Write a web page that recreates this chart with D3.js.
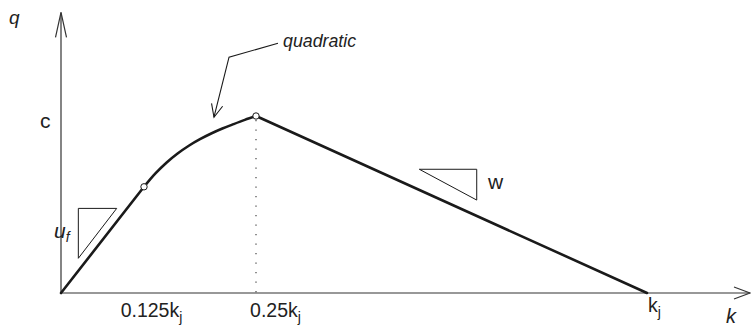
<!DOCTYPE html>
<html>
<head>
<meta charset="utf-8">
<script src="https://cdn.jsdelivr.net/npm/d3@7/dist/d3.min.js"></script>
<style>
  html, body { margin: 0; padding: 0; background: #fff; }
  svg { display: block; }
  text { font-family: "Liberation Sans", Arial, Helvetica, sans-serif; fill: #222; }
</style>
</head>
<body>
<svg id="chart" width="751" height="326"></svg>
<script>
// Flow q against density k: linear rise, quadratic cap, linear fall
const riseK = [0, 0.125];
const riseQ = [0, 0.6];
const quadK = [0.125, 0.1375, 0.15, 0.1625, 0.175, 0.1875, 0.2, 0.2125, 0.225, 0.2375, 0.25];
const quadQ = [0.600, 0.674, 0.736, 0.788, 0.832, 0.869, 0.901, 0.929, 0.954, 0.978, 1.000];
const fallK = [0.25, 1];
const fallQ = [1, 0];
const breakK = [0.125, 0.25];
const breakQ = [0.6, 1];
const tickK = [0.125, 0.25, 1];
const tickLabels = ["0.125k", "0.25k", "k"];

const W = 751, H = 326;
const svg = d3.select("#chart");
const ink = "#1a1a1a";

// schematic (piecewise) horizontal scale
const x = d3.scaleLinear().domain([0, 0.125, 0.25, 1]).range([61, 144, 256, 647]);
const y = d3.scaleLinear().domain([0, 1]).range([293, 116]);
const qTop = 1.585;

// axes
const ax = svg.append("g").attr("stroke", "#333").attr("fill", "none").attr("stroke-width", 1.2);
ax.append("line").attr("x1", x(0)).attr("y1", y(0)).attr("x2", W - 1).attr("y2", y(0));
ax.append("path").attr("d", `M${W - 17},${y(0) - 6}L${W - 1},${y(0)}L${W - 17},${y(0) + 6}`);
ax.append("line").attr("x1", x(0)).attr("y1", y(0)).attr("x2", x(0)).attr("y2", y(qTop));
ax.append("path").attr("d", `M${x(0) - 5.5},${y(qTop) + 25}L${x(0)},${y(qTop)}L${x(0) + 5.5},${y(qTop) + 25}`);

// tick labels with subscript j
const xAxis = d3.axisBottom(x).tickValues(tickK).tickSize(0).tickFormat("");
const gx = svg.append("g").attr("transform", `translate(0,${y(0)})`).call(xAxis);
gx.select(".domain").remove();
const labelDx = [7, 19, 7];
const labelDy = [24, 24, 19];
gx.selectAll(".tick").each(function(d, i) {
  const t = d3.select(this).append("text")
    .attr("x", labelDx[i]).attr("y", labelDy[i])
    .attr("text-anchor", "middle")
    .attr("font-size", 19.5)
    .style("fill", "#222");
  t.append("tspan").text(tickLabels[i]);
  t.append("tspan").attr("font-size", 14).attr("dy", 5).text("j");
});

// dotted drop line from the peak
svg.append("line")
  .attr("x1", x(0.25)).attr("x2", x(0.25))
  .attr("y1", y(1) + 4).attr("y2", y(0))
  .attr("stroke", "#333").attr("stroke-width", 1.1)
  .attr("stroke-dasharray", "1.3,8.2");

// the flow curve
const lineLin = d3.line().x(d => x(d[0])).y(d => y(d[1]));
const lineQuad = d3.line().x(d => x(d[0])).y(d => y(d[1])).curve(d3.curveMonotoneX);
const curveG = svg.append("g").attr("fill", "none").attr("stroke", ink)
  .attr("stroke-width", 2.6).attr("stroke-linejoin", "round").attr("stroke-linecap", "round");
curveG.append("path").attr("d", lineLin(riseK.map((k, i) => [k, riseQ[i]])));
curveG.append("path").attr("d", lineQuad(quadK.map((k, i) => [k, quadQ[i]])));
curveG.append("path").attr("d", lineLin(fallK.map((k, i) => [k, fallQ[i]])));

// breakpoints
svg.selectAll("circle.bp").data(breakK).join("circle")
  .attr("class", "bp")
  .attr("cx", d => x(d)).attr("cy", (d, i) => y(breakQ[i]))
  .attr("r", 3.2).attr("fill", "#fff").attr("stroke", ink).attr("stroke-width", 1);

// slope triangles
const triUf = [[0.0261, 0.478], [0.0839, 0.478], [0.0261, 0.196]];
const triW = [[0.5633, 0.699], [0.6734, 0.699], [0.6734, 0.525]];
[triUf, triW].forEach(tri => {
  svg.append("path")
    .attr("d", d3.line().x(d => x(d[0])).y(d => y(d[1]))(tri) + "Z")
    .attr("fill", "none").attr("stroke", ink).attr("stroke-width", 1);
});

// leader for the quadratic label
const leader = [[0.2922, 1.411], [0.2199, 1.332], [0.2031, 0.993]];
svg.append("path").attr("d", lineLin(leader))
  .attr("fill", "none").attr("stroke", ink).attr("stroke-width", 1.1);
{
  const p1 = leader[1], p2 = leader[2];
  const tx = x(p2[0]), ty = y(p2[1]);
  const ang = Math.atan2(ty - y(p1[1]), tx - x(p1[0]));
  const len = 14, spread = 0.42;
  const b1 = [tx - len * Math.cos(ang - spread), ty - len * Math.sin(ang - spread)];
  const b2 = [tx - len * Math.cos(ang + spread), ty - len * Math.sin(ang + spread)];
  svg.append("path")
    .attr("d", `M${b1[0]},${b1[1]}L${tx},${ty}L${b2[0]},${b2[1]}`)
    .attr("fill", "none").attr("stroke", ink).attr("stroke-width", 1.1);
}

// text labels
svg.append("text").attr("x", 9).attr("y", 24).attr("font-size", 19)
  .attr("font-style", "italic").text("q");
svg.append("text").attr("x", x(0) - 21).attr("y", y(1) + 12).attr("font-size", 21).text("c");
const uf = svg.append("text").attr("x", 54).attr("y", 238).attr("font-size", 21).attr("font-style", "italic");
uf.append("tspan").text("u");
uf.append("tspan").attr("font-size", 14).attr("dy", 4).text("f");
svg.append("text").attr("x", 488).attr("y", 189).attr("font-size", 21).text("w");
svg.append("text").attr("x", 283).attr("y", 46.5).attr("font-size", 17.8)
  .attr("font-style", "italic").text("quadratic");
svg.append("text").attr("x", 726).attr("y", 323).attr("font-size", 20)
  .attr("font-style", "italic").text("k");
</script>
</body>
</html>
